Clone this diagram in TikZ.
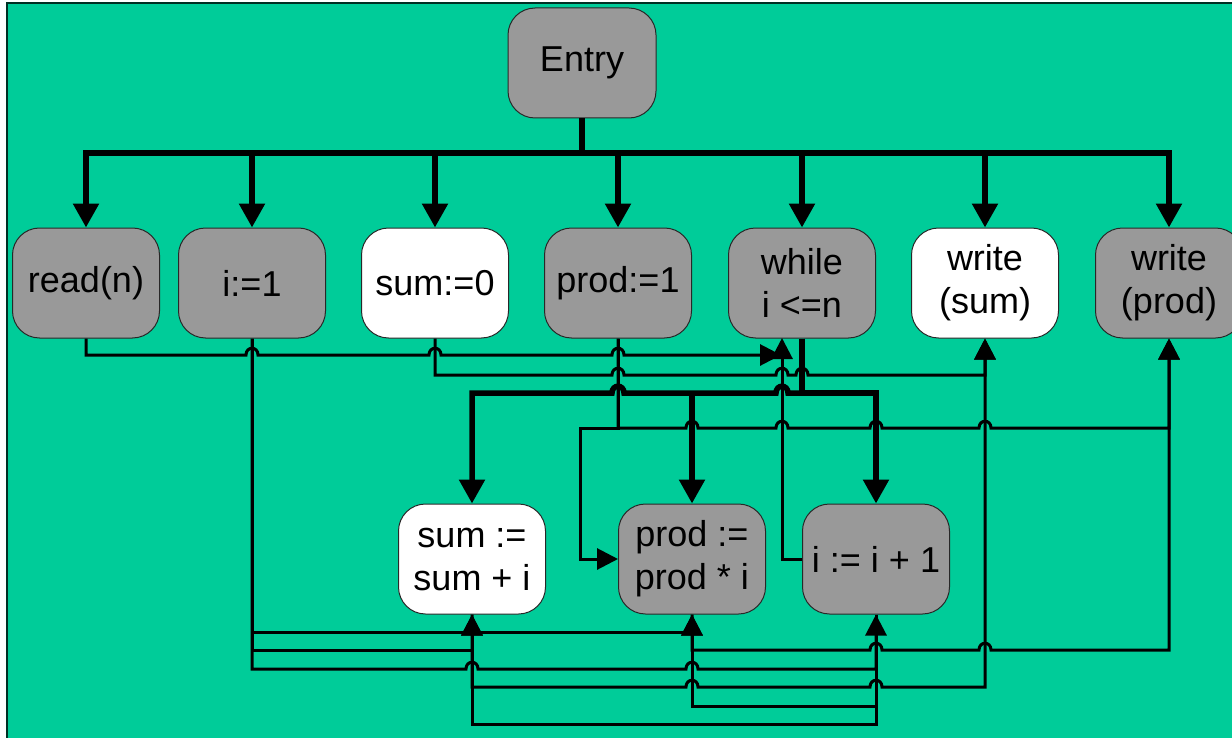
\documentclass[tikz,border=0pt]{standalone}
\usepackage{fontspec}
\setmainfont{Liberation Sans}
\usetikzlibrary{arrows.meta}

\definecolor{canvas}{RGB}{0,204,153}
\definecolor{frameline}{RGB}{0,48,36}
\definecolor{stmtgray}{RGB}{153,153,153}
\definecolor{edgeline}{RGB}{40,40,40}

% a horizontal line jumping over a crossing vertical one,
% travelling to the right (jumpR) or to the left (jumpL)
\newcommand\jumpR[2]{-- ({#1-6},#2) .. controls ({#1-6},{#2-9}) and ({#1+6},{#2-9}) .. ({#1+6},#2)}
\newcommand\jumpL[2]{-- ({#1+6},#2) .. controls ({#1+6},{#2-9}) and ({#1-6},{#2-9}) .. ({#1-6},#2)}

\tikzset{
  stmt/.style={draw=edgeline, line width=0.5pt, fill=stmtgray,
    rounded corners=13.5pt, minimum width=73.5pt, minimum height=55pt,
    inner sep=2pt, align=center, font=\fontsize{18}{21.5}\selectfont},
  stmtwhite/.style={stmt, fill=white},
  ctrl/.style={line width=2.75pt},
  ctrltip/.style={-{Triangle[length=12pt,width=12.5pt]}},
  data/.style={line width=1.5pt},
  datatip/.style={-{Triangle[length=10.5pt,width=10.5pt]}}
}

\begin{document}
\begin{tikzpicture}[x=0.5pt,y=-0.5pt]
\useasboundingbox (0,0) rectangle (1232,738);
\begin{scope}
\clip (0,0) rectangle (1232,738);
% canvas
\fill[white] (0,0) rectangle (1232,738);
\fill[canvas] (7,3) rectangle (1232,738);
\draw[frameline, line width=1pt] (7,738) -- (7,3) -- (1232,3);

% statements
\node[stmt, minimum width=74pt] (entry) at (582,63) {Entry};
\node[stmt]      (readn) at (86,283)   {read(n)};
\node[stmt]      (ione)  at (252,283)  {i:=1};
\node[stmtwhite] (sumz)  at (435,283)  {sum:=0};
\node[stmt]      (prodo) at (618,283)  {prod:=1};
\node[stmt]      (loop)  at (802,283)  {while\\i <=n};
\node[stmtwhite] (wsum)  at (985,283)  {write\\(sum)};
\node[stmt]      (wprod) at (1169,283) {write\\(prod)};
\node[stmtwhite] (sumi)  at (472,559)  {sum :=\\sum + i};
\node[stmt]      (prodi) at (692,559)  {prod :=\\prod * i};
\node[stmt]      (iinc)  at (876,559)  {i := i + 1};

% control dependences from Entry
\coordinate (ebus) at (582,153);
\draw[ctrl] (entry.south) -- (ebus);
\draw[ctrl,ctrltip] (ebus) -| (readn.north);
\draw[ctrl,ctrltip] (ebus) -| (wprod.north);
\foreach \n in {ione,sumz,prodo,loop,wsum}
  \draw[ctrl,ctrltip] (ebus -| \n.north) -- (\n.north);

% control dependences from the loop test
\coordinate (wbus) at (802,393);
\draw[ctrl] (loop.south) -- (wbus);
\draw[ctrl,ctrltip] (wbus) \jumpL{782}{393} \jumpL{618}{393} -- (472,393) -- (sumi.north);
\draw[ctrl,ctrltip] (wbus -| prodi.north) -- (prodi.north);
\draw[ctrl,ctrltip] (wbus) -| (iinc.north);

% data dependences
\draw[data,datatip] (readn.south) -- (86,355) \jumpR{252}{355} \jumpR{435}{355} \jumpR{618}{355} -- (781,355);
\draw[data,datatip] (iinc.west) -- (782,559) -- (782,338);

\draw[data,datatip] (ione.south) |- (692,632) -- (prodi.south);
\draw[data,datatip] (ione.south) |- (472,650) -- (sumi.south);
\draw[data,datatip] (ione.south) -- (252,669) \jumpR{472}{669} \jumpR{692}{669} -- (876,669) -- (iinc.south);

\draw[data,datatip] (sumz.south) -- (435,375) \jumpR{618}{375} \jumpR{782}{375} \jumpR{802}{375} -- (985,375) -- (wsum.south);

\draw[data,datatip] (prodo.south) -- (618,428) -- (580,428) |- (prodi.west);
\draw[data,datatip] (prodo.south) -- (618,428) \jumpR{692}{428} \jumpR{782}{428} \jumpR{876}{428} \jumpR{985}{428} -- (1169,428) -- (wprod.south);

\draw[data,datatip] (sumi.south) -- (472,687) \jumpR{692}{687} \jumpR{876}{687} -- (985,687) -- (wsum.south);
\draw[data,datatip] (prodi.south) -- (692,650) \jumpR{876}{650} \jumpR{985}{650} -- (1169,650) -- (wprod.south);

\draw[data,datatip] (iinc.south) -- (876,724) -- (472,724) -- (sumi.south);
\draw[data,datatip] (iinc.south) -- (876,706) -- (692,706) -- (prodi.south);
\end{scope}
\end{tikzpicture}
\end{document}
